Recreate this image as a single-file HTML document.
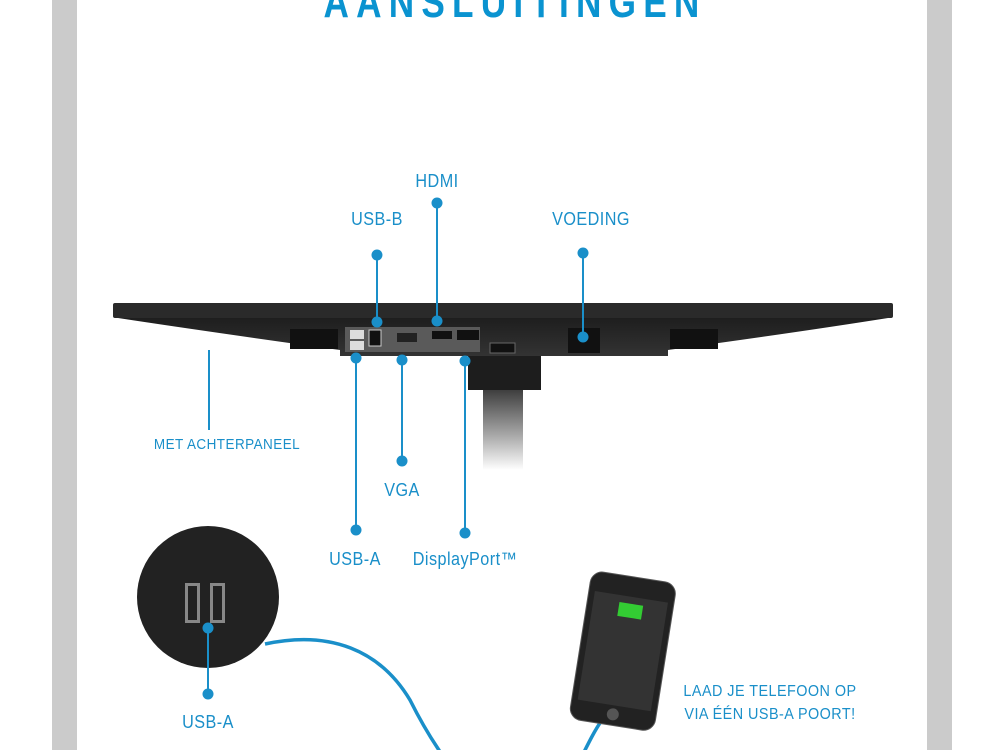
<!DOCTYPE html>
<html><head><meta charset="utf-8"><style>
body{margin:0;width:1000px;height:750px;overflow:hidden;background:#fff;position:relative;font-family:"Liberation Sans",sans-serif}
.g{position:absolute;top:0;height:750px;width:25px;background:#cbcbcb}
.t{position:absolute;color:#1a8fc9;font-size:18px;white-space:nowrap;transform:translateX(-50%) scaleX(0.9);letter-spacing:0.5px}
</style></head><body>
<div class="g" style="left:52px"></div><div class="g" style="left:927px"></div>
<div style="position:absolute;left:215px;top:-22px;width:600px;text-align:center;color:#0a93d0;font-weight:bold;font-size:44px;letter-spacing:9px;transform:scaleX(0.8);transform-origin:center">AANSLUITINGEN</div>
<svg width="1000" height="750" style="position:absolute;left:0;top:0">
<defs><linearGradient id="p" x1="0" y1="0" x2="0" y2="1"><stop offset="0" stop-color="#333"/><stop offset="0.6" stop-color="#aaa"/><stop offset="1" stop-color="#fff"/></linearGradient>
<linearGradient id="b" x1="0" y1="0" x2="0" y2="1"><stop offset="0" stop-color="#1e1e1e"/><stop offset="1" stop-color="#333"/></linearGradient></defs>
<rect x="483" y="385" width="40" height="85" fill="url(#p)"/>
<rect x="468" y="355" width="73" height="35" fill="#1d1d1d"/>
<rect x="113" y="303" width="780" height="15" rx="2" fill="#2a2a2a"/>
<path d="M118 318 L888 318 Q800 332 668 350 L668 356 L340 356 L340 350 Q210 332 118 318Z" fill="url(#b)"/>
<g fill="#111"><rect x="290" y="329" width="48" height="20"/><rect x="670" y="329" width="48" height="20"/></g>
<rect x="345" y="327" width="135" height="25" fill="#5a5a5a"/>
<rect x="350" y="330" width="14" height="9" fill="#ddd"/><rect x="350" y="341" width="14" height="9" fill="#ddd"/>
<rect x="369" y="330" width="12" height="16" fill="#111" stroke="#ccc"/>
<rect x="397" y="333" width="20" height="9" fill="#222"/>
<rect x="432" y="331" width="20" height="8" fill="#111"/><rect x="457" y="330" width="22" height="10" fill="#111"/>
<rect x="490" y="343" width="25" height="10" fill="#111" stroke="#666"/>
<rect x="568" y="328" width="32" height="25" fill="#111"/>
<g stroke="#1a8fc9" stroke-width="2" fill="none">
<line x1="377" y1="255" x2="377" y2="322"/><line x1="437" y1="203" x2="437" y2="321"/><line x1="583" y1="253" x2="583" y2="337"/>
<line x1="356" y1="358" x2="356" y2="530"/><line x1="402" y1="360" x2="402" y2="461"/><line x1="465" y1="361" x2="465" y2="533"/>
<line x1="209" y1="350" x2="209" y2="430"/>
</g>
<circle cx="208" cy="597" r="71" fill="#222"/>
<rect x="185" y="583" width="15" height="40" fill="#888"/><rect x="188" y="586" width="9" height="34" fill="#222"/>
<rect x="210" y="583" width="15" height="40" fill="#888"/><rect x="213" y="586" width="9" height="34" fill="#222"/>
<path d="M265 644 C330 630 380 650 410 700 C430 740 440 750 445 760 M580 760 C590 740 595 730 602 720" stroke="#1a8fc9" stroke-width="3.5" fill="none"/>
<g transform="rotate(9 622 650)"><rect x="580" y="576" width="86" height="150" rx="12" fill="#222" stroke="#555"/><rect x="586" y="596" width="74" height="110" fill="#333"/><rect x="612" y="603" width="24" height="14" fill="#3c3"/><circle cx="623" cy="715" r="6" fill="#555"/></g>
<g stroke="#1a8fc9" stroke-width="2"><line x1="208" y1="628" x2="208" y2="694"/></g>
<g fill="#1a8fc9">
<circle cx="377" cy="255" r="5.5"/><circle cx="377" cy="322" r="5.5"/><circle cx="437" cy="203" r="5.5"/><circle cx="437" cy="321" r="5.5"/>
<circle cx="583" cy="253" r="5.5"/><circle cx="583" cy="337" r="5.5"/>
<circle cx="356" cy="358" r="5.5"/><circle cx="356" cy="530" r="5.5"/><circle cx="402" cy="360" r="5.5"/><circle cx="402" cy="461" r="5.5"/>
<circle cx="465" cy="361" r="5.5"/><circle cx="465" cy="533" r="5.5"/>
<circle cx="208" cy="628" r="5.5"/><circle cx="208" cy="694" r="5.5"/>
</g>
</svg>
<div class="t" style="left:437px;top:171px">HDMI</div>
<div class="t" style="left:377px;top:209px">USB-B</div>
<div class="t" style="left:591px;top:209px">VOEDING</div>
<div class="t" style="left:227px;top:436px;font-size:15px">MET ACHTERPANEEL</div>
<div class="t" style="left:402px;top:480px">VGA</div>
<div class="t" style="left:355px;top:549px">USB-A</div>
<div class="t" style="left:465px;top:549px">DisplayPort™</div>
<div class="t" style="left:208px;top:712px">USB-A</div>
<div class="t" style="left:770px;top:683px;font-size:16px">LAAD JE TELEFOON OP</div>
<div class="t" style="left:770px;top:706px;font-size:16px">VIA ÉÉN USB-A POORT!</div>
</body></html>
